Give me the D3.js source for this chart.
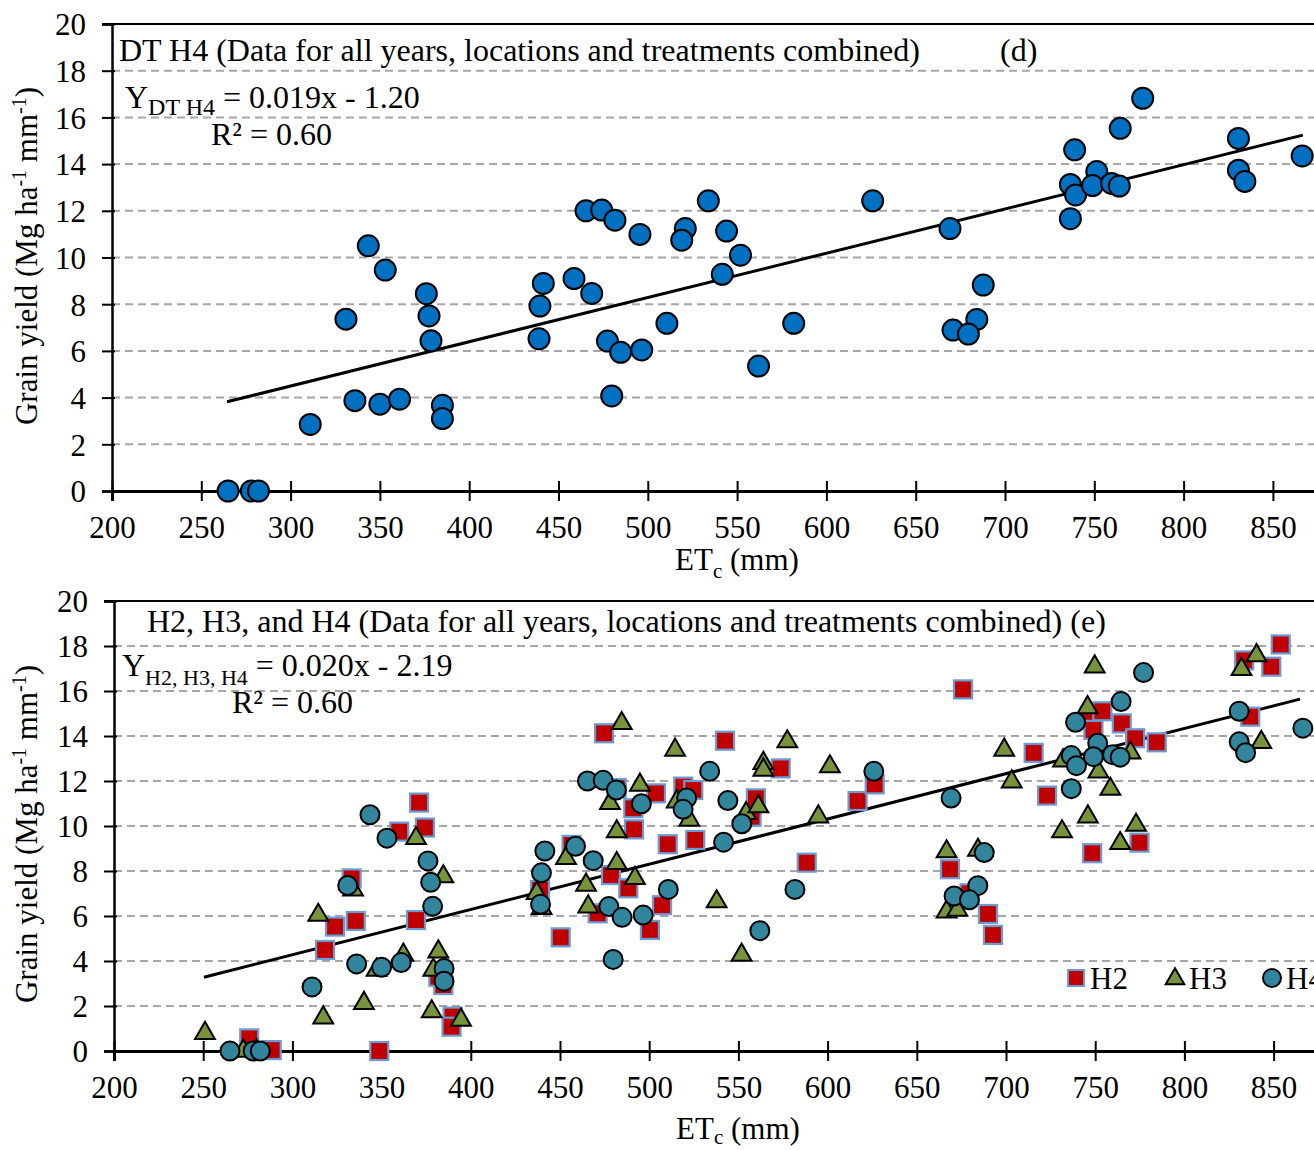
<!DOCTYPE html>
<html>
<head>
<meta charset="utf-8">
<script src="https://cdn.jsdelivr.net/npm/d3@7"></script>
<style>
  html, body { margin: 0; padding: 0; background: #fff; overflow: hidden; }
  svg { display: block; }
  text { font-family: "Liberation Serif", "Times New Roman", serif; fill: #000; }
</style>
</head>
<body>
<svg id="chart" width="1314" height="1150" font-family="Liberation Serif, Times New Roman, serif"></svg>
<script>
// ---------- DATA ----------
const xTicks = [200, 250, 300, 350, 400, 450, 500, 550, 600, 650, 700, 750, 800, 850];
const yTicks = [0, 2, 4, 6, 8, 10, 12, 14, 16, 18, 20];

// H4 (DT H4) : [ETc (mm), grain yield]
const h4 = [
  [265,0],[278,0],[282,0],[311,2.85],[331,7.36],[336,3.87],[343.5,10.5],[350,3.72],[353,9.46],[361,3.93],
  [376,8.45],[377.5,7.5],[378.6,6.43],[385,3.67],[385,3.1],[439.6,7.92],[441.5,8.89],[439.1,6.52],[458.7,9.1],[468.6,8.46],
  [465.4,12.0],[474.2,12.03],[481.6,11.6],[495.6,10.99],[477.4,6.42],[484.8,5.94],[496.6,6.04],[479.8,4.07],[510.7,7.18],[521,11.24],
  [519,10.74],[533.9,12.43],[544.1,11.13],[551.9,10.1],[541.7,9.28],[562,5.35],[581.7,7.18],[625.9,12.43],[669.2,11.24],[687.8,8.82],
  [684.2,7.35],[670.9,6.89],[679.5,6.72],[739,14.61],[736.6,13.13],[739.5,12.68],[736.6,11.66],[751.4,13.68],[749,13.08],[759.7,13.17],
  [764,13.06],[764.5,15.53],[777.1,16.82],[830.7,15.1],[830.7,13.74],[834.3,13.26],[866.4,14.35]
];

const h2 = [
  [275.8,0.56],[288.4,0.04],[348.7,0],[318.3,4.49],[323.9,5.53],[335.5,5.78],[333.2,7.67],[359.9,9.75],[371,11.04],[374.3,9.93],
  [369.3,5.82],[384.6,2.93],[381.8,3.3],[389.8,1.53],[389.2,1.08],[438.8,7.16],[450.4,5.05],[456.5,9.16],[471.1,6.12],[474.7,14.12],
  [478.6,7.82],[481.8,11.68],[488.3,7.23],[491.1,10.79],[491.5,9.85],[500.4,5.38],[503.8,11.45],[507.2,6.48],[510.4,9.19],[519.1,11.75],
  [524.7,11.6],[525.8,9.38],[542.5,13.79],[557.4,10.41],[559.8,11.23],[573.7,12.56],[588.3,8.37],[616.8,11.11],[626.4,11.85],[668.6,8.08],
  [675.9,16.07],[679.5,7.01],[689.9,6.09],[692.7,5.16],[715.5,13.25],[723,11.35],[747,14.9],[748.3,8.79],[749,14.27],[754,15.1],
  [764.9,14.56],[772.4,13.9],[774.8,9.26],[784.5,13.72],[833.5,17.36],[836.9,14.86],[848.7,17.08],[854,18.07]
];

const h3 = [
  [251,0.79],[272.5,0],[280,0],[314.5,6.04],[317.3,1.48],[334,7.16],[340.1,2.12],[347.2,3.6],[362.2,4.27],[369.3,9.45],
  [378.1,1.75],[379,3.6],[381.8,4.41],[384.6,7.75],[394.5,1.38],[436.9,7.01],[439.7,6.34],[453.4,8.56],[464.6,7.38],[465.8,6.41],
  [478,11.01],[481.8,9.75],[481.8,8.34],[484.6,14.56],[492,7.68],[494.8,11.82],[514.5,13.38],[515.4,11.08],[522.5,10.27],[537.8,6.64],
  [551.8,4.27],[554.3,10.56],[561.2,10.86],[564,12.79],[564,12.49],[577.4,13.75],[594.8,10.41],[601.3,12.64],[666.7,8.86],[666.7,6.19],
  [672.7,6.27],[684.3,8.93],[699,13.38],[703.2,11.97],[731.4,9.75],[732,12.9],[745.7,15.27],[745.9,10.41],[749.7,17.08],[751.8,12.41],
  [758.5,11.64],[764,9.23],[769.8,13.25],[772.9,10.04],[832,16.96],[840.4,17.58],[843.1,13.72]
];

// trend lines as drawn (endpoints)
const trendTop = [[264.4, 3.82], [866.8, 15.24]];
const trendBottom = [[250.4, 3.28], [864.8, 15.64]];

// ---------- DRAW ----------
const svg = d3.select("#chart");
const FONT = 31;
const SERIF = '"Liberation Serif", "Times New Roman", serif';

function panel(cfg) {
  const x = d3.scaleLinear().domain([200, 900]).range([cfg.x0, cfg.x0 + 700 * cfg.kx]);
  const y = d3.scaleLinear().domain([0, 20]).range([cfg.yBot, cfg.yTop]);
  const g = svg.append("g");

  // gridlines (dashed)
  g.append("g").selectAll("line").data(yTicks.filter(t => t > 0 && t < 20)).join("line")
    .attr("x1", x(200)).attr("x2", 1314).attr("y1", d => y(d)).attr("y2", d => y(d))
    .attr("stroke", "#a6a6a6").attr("stroke-width", 2).attr("stroke-dasharray", "8,5");
  // top border line
  g.append("line").attr("x1", x(200) - 10).attr("x2", 1314).attr("y1", y(20)).attr("y2", y(20))
    .attr("stroke", "#000").attr("stroke-width", 2);

  // y axis
  const ya = g.append("g").attr("transform", `translate(${x(200)},0)`)
    .call(d3.axisLeft(y).tickValues(yTicks).tickSize(10).tickPadding(16))
    .attr("font-family", null).attr("font-size", null);
  ya.select(".domain").attr("stroke", "#000").attr("stroke-width", 2.5);
  ya.selectAll(".tick line").attr("stroke-width", 2).attr("x2", -10).attr("x1", 3);
  ya.selectAll(".tick text").style("font-size", FONT + "px").style("font-family", SERIF).attr("dy", "0.35em");

  // x axis
  const xa = g.append("g").attr("transform", `translate(0,${y(0)})`)
    .call(d3.axisBottom(x).tickValues(xTicks).tickSize(10).tickPadding(15))
    .attr("font-family", null).attr("font-size", null);
  xa.select(".domain").attr("stroke", "#000").attr("stroke-width", 3);
  xa.selectAll(".tick line").attr("stroke-width", 2).attr("y1", -10).attr("y2", 10);
  xa.selectAll(".tick text").style("font-size", FONT + "px").style("font-family", SERIF);

  // axis titles
  const xt = g.append("text").attr("x", cfg.xTitleX).attr("y", cfg.xTitleY)
    .attr("text-anchor", "middle").style("font-size", FONT + "px").style("font-family", SERIF);
  xt.append("tspan").text("ET");
  xt.append("tspan").attr("dy", cfg.subDy).style("font-size", "21px").text("c");
  xt.append("tspan").attr("dy", -cfg.subDy).text(" (mm)");

  const yt = g.append("text").attr("transform", `translate(${cfg.yTitleX},${cfg.yTitleY}) rotate(-90)`)
    .attr("text-anchor", "middle").style("font-size", FONT + "px").style("font-family", SERIF);
  yt.append("tspan").text("Grain yield (Mg ha");
  yt.append("tspan").attr("dy", -11).style("font-size", "20px").text("-1");
  yt.append("tspan").attr("dy", 11).text(" mm");
  yt.append("tspan").attr("dy", -11).style("font-size", "20px").text("-1");
  yt.append("tspan").attr("dy", 11).text(")");

  return { g, x, y };
}

// ---- top panel (d)
const P1 = panel({ x0: 112, kx: 1.786, yBot: 491, yTop: 24, xTitleX: 737, xTitleY: 570, subDy: 8, yTitleX: 37, yTitleY: 256 });

P1.g.append("line")
  .attr("x1", P1.x(trendTop[0][0])).attr("y1", P1.y(trendTop[0][1]))
  .attr("x2", P1.x(trendTop[1][0])).attr("y2", P1.y(trendTop[1][1]))
  .attr("stroke", "#000").attr("stroke-width", 3);

P1.g.append("g").selectAll("circle").data(h4).join("circle")
  .attr("cx", d => P1.x(d[0])).attr("cy", d => P1.y(d[1])).attr("r", 10.5)
  .attr("fill", "#0070c0").attr("stroke", "#000").attr("stroke-width", 2);

P1.g.append("text").attr("x", 119).attr("y", 61).style("font-size", "32px").style("font-family", SERIF)
  .text("DT H4 (Data for all years, locations and treatments combined)");
P1.g.append("text").attr("x", 1000).attr("y", 61).style("font-size", "32px").style("font-family", SERIF).text("(d)");
{
  const t = P1.g.append("text").attr("x", 125).attr("y", 108).style("font-size", "32px").style("font-family", SERIF);
  t.append("tspan").text("Y");
  t.append("tspan").attr("dy", 7).style("font-size", "24px").text("DT H4");
  t.append("tspan").attr("dy", -7).text(" = 0.019x - 1.20");
  P1.g.append("text").attr("x", 211).attr("y", 145).style("font-size", "32px").style("font-family", SERIF).text("R² = 0.60");
}

// ---- bottom panel (e)
const P2 = panel({ x0: 114, kx: 1.784, yBot: 1051, yTop: 601, xTitleX: 738, xTitleY: 1139, subDy: 5, yTitleX: 37, yTitleY: 834 });

P2.g.append("line")
  .attr("x1", P2.x(trendBottom[0][0])).attr("y1", P2.y(trendBottom[0][1]))
  .attr("x2", P2.x(trendBottom[1][0])).attr("y2", P2.y(trendBottom[1][1]))
  .attr("stroke", "#000").attr("stroke-width", 3);

const sq = 18;
P2.g.append("g").selectAll("rect").data(h2).join("rect")
  .attr("x", d => P2.x(d[0]) - sq / 2).attr("y", d => P2.y(d[1]) - sq / 2)
  .attr("width", sq).attr("height", sq)
  .attr("fill", "#c00000").attr("stroke", "#6c9ad2").attr("stroke-width", 2.2);

const tri = d3.symbol().type(d3.symbolTriangle).size(170);
P2.g.append("g").selectAll("path").data(h3).join("path")
  .attr("d", tri).attr("transform", d => `translate(${P2.x(d[0])},${P2.y(d[1])})`)
  .attr("fill", "#77933c").attr("stroke", "#000").attr("stroke-width", 2);

P2.g.append("g").selectAll("circle").data(h4).join("circle")
  .attr("cx", d => P2.x(d[0])).attr("cy", d => P2.y(d[1])).attr("r", 9.5)
  .attr("fill", "#31859c").attr("stroke", "#000").attr("stroke-width", 2);

P2.g.append("text").attr("x", 147).attr("y", 632).style("font-size", "32px").style("font-family", SERIF)
  .text("H2, H3, and H4 (Data for all years, locations and treatments combined) (e)");
{
  const t = P2.g.append("text").attr("x", 122).attr("y", 676).style("font-size", "32px").style("font-family", SERIF);
  t.append("tspan").text("Y");
  t.append("tspan").attr("dy", 9).style("font-size", "22px").text("H2, H3, H4");
  t.append("tspan").attr("dy", -9).text(" = 0.020x - 2.19");
  P2.g.append("text").attr("x", 232).attr("y", 713).style("font-size", "32px").style("font-family", SERIF).text("R² = 0.60");
}

// legend
const lg = P2.g.append("g");
const legendItems = ["H2", "H3", "H4"];
const legendX = [1076, 1175, 1272];
const ly = 978;
lg.append("rect").attr("x", legendX[0] - 8).attr("y", ly - 8).attr("width", 16).attr("height", 16)
  .attr("fill", "#c00000").attr("stroke", "#6c9ad2").attr("stroke-width", 2);
lg.append("path").attr("d", d3.symbol().type(d3.symbolTriangle).size(150))
  .attr("transform", `translate(${legendX[1]},${ly + 1})`)
  .attr("fill", "#77933c").attr("stroke", "#000").attr("stroke-width", 2);
lg.append("circle").attr("cx", legendX[2]).attr("cy", ly).attr("r", 9)
  .attr("fill", "#31859c").attr("stroke", "#000").attr("stroke-width", 2);
lg.selectAll("text").data(legendItems).join("text")
  .attr("x", (d, i) => legendX[i] + 14).attr("y", ly + 11).style("font-size", "31px").style("font-family", SERIF).text(d => d);
</script>
</body>
</html>
